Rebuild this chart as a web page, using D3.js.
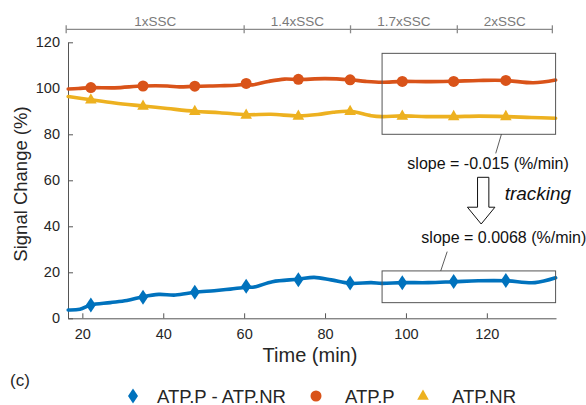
<!DOCTYPE html>
<html><head><meta charset="utf-8">
<script src="https://cdn.jsdelivr.net/npm/d3@7"></script>
<style>
html,body{margin:0;padding:0;background:#fff;}
svg{display:block;font-family:"Liberation Sans",Arial,sans-serif;}
</style></head>
<body><svg id="c" width="586" height="405"></svg>
<script>
// ---- data ----
const markerTimes = [22.1, 35, 47.8, 60.5, 73.4, 86.2, 99.1, 111.8, 124.7];
const atpPMarkers  = [100.3, 101, 100.9, 102.1, 103.9, 103.7, 103, 103, 103.4];
const atpNRMarkers = [95, 92.3, 90, 88.4, 88, 90, 88, 87.8, 87.8];
const diffMarkers  = [5.8, 9.2, 11.3, 13.9, 16.8, 15.3, 15.5, 16, 16.4];

const atpPTimes  = [16.5, 19, 22.1, 28, 35, 41, 44, 47.8, 54, 58, 60.5, 62, 66, 70, 73.4, 80, 86.2, 90, 94, 99.1, 105, 111.8, 118, 124.7, 131.5, 137];
const atpPLine   = [99.7, 99.9, 100.3, 100.2, 101, 101, 100.6, 100.9, 101.1, 101.3, 101.7, 101.5, 103, 104, 103.8, 104.2, 103.7, 103, 102.6, 103, 102.9, 103.1, 103.4, 103.4, 102.4, 103.6];
const atpNRTimes = [16.5, 22.1, 28, 35, 41, 47.8, 54, 60.5, 66.6, 73.4, 78.2, 82, 86.2, 91.4, 94, 99.1, 105, 111.8, 118, 124.7, 131, 137];
const atpNRLine  = [96.4, 95, 93.6, 92.3, 91.2, 90, 89.4, 88.5, 88.7, 88, 88.6, 89.6, 90, 88.1, 87.7, 88, 87.7, 87.7, 87.9, 87.7, 87.3, 87];
const diffTimes  = [16.5, 19.4, 22.1, 26.9, 31, 35, 38.9, 43, 47.8, 52.6, 56.6, 60.5, 62.5, 67, 73.4, 77.3, 81.5, 86.2, 91.4, 94, 99.1, 105.5, 111.8, 117.9, 124.7, 131.9, 137];
const diffLine   = [3.6, 3.9, 5.8, 6.8, 7.7, 9.4, 10.4, 10.1, 11.3, 12, 12.7, 13.5, 13.6, 15.9, 17, 17.8, 16.7, 15.2, 15.5, 15.2, 15.5, 15.5, 15.9, 16.3, 16.3, 15.5, 17.6];

const xTicks = [20, 40, 60, 80, 100, 120];
const yTicks = [0, 20, 40, 60, 80, 100, 120];
const phaseBounds = [16, 60, 86.3, 112.7, 136.2];
const phaseLabels = ["1xSSC", "1.4xSSC", "1.7xSSC", "2xSSC"];
const legendLabels = ["ATP.P - ATP.NR", "ATP.P", "ATP.NR"];

const colBlue = "#0072BD", colOrange = "#D95319", colYellow = "#EDB120";

// ---- scales ----
const x = d3.scaleLinear().domain([16.45, 137.1]).range([68, 556]);
const y = d3.scaleLinear().domain([0, 120]).range([318.3, 42.3]);

const svg = d3.select("#c");
const axisCol = "#555";
const textCol = "#262626";

// axes
const xAxis = svg.append("g").attr("transform", `translate(0,${y(0)})`)
  .call(d3.axisBottom(x).tickValues(xTicks).tickSizeInner(-5).tickSizeOuter(0).tickPadding(10));
const yAxis = svg.append("g").attr("transform", `translate(${x.range()[0]},0)`)
  .call(d3.axisLeft(y).tickValues(yTicks).tickSizeInner(-5).tickSizeOuter(0).tickPadding(8));
[xAxis, yAxis].forEach(g => {
  g.select(".domain").attr("stroke", axisCol).attr("stroke-width", 1);
  g.selectAll(".tick line").attr("stroke", axisCol);
  g.selectAll(".tick text").attr("fill", textCol).style("font-size", "14.5px").style("font-family", "Liberation Sans, Arial, sans-serif");
});

// axis labels
svg.append("text").attr("x", 310).attr("y", 362).attr("text-anchor", "middle")
  .attr("fill", textCol).style("font-size", "20px").text("Time (min)");
svg.append("text").attr("transform", "translate(27,184) rotate(-90)").attr("text-anchor", "middle")
  .attr("fill", textCol).style("font-size", "18.5px").text("Signal Change (%)");
svg.append("text").attr("x", 10).attr("y", 386).attr("fill", textCol).style("font-size", "17px").text("(c)");

// phase bracket
const by = 29.3;
const bracketCol = "#8a8a8a";
svg.append("line").attr("x1", x(phaseBounds[0])).attr("x2", x(phaseBounds[phaseBounds.length-1]))
  .attr("y1", by).attr("y2", by).attr("stroke", bracketCol).attr("stroke-width", 1.3);
phaseBounds.forEach(b => {
  svg.append("line").attr("x1", x(b)).attr("x2", x(b)).attr("y1", by-4).attr("y2", by+4)
    .attr("stroke", bracketCol).attr("stroke-width", 1.3);
});
phaseLabels.forEach((l, i) => {
  svg.append("text").attr("x", x((phaseBounds[i]+phaseBounds[i+1])/2)).attr("y", 25.5)
    .attr("text-anchor", "middle").attr("fill", "#7a7a7a").style("font-size", "13.5px").text(l);
});

// lines
const line = d3.line().x(d => x(d[0])).y(d => y(d[1])).curve(d3.curveCatmullRom.alpha(0.5));
function drawLine(ts, vs, col) {
  svg.append("path").datum(ts.map((t, i) => [t, vs[i]])).attr("d", line)
    .attr("fill", "none").attr("stroke", col).attr("stroke-width", 3.6)
    .attr("stroke-linejoin", "round").attr("stroke-linecap", "round");
}
drawLine(atpPTimes, atpPLine, colOrange);
drawLine(atpNRTimes, atpNRLine, colYellow);
drawLine(diffTimes, diffLine, colBlue);

// markers
const diamond = (cx, cy) => `M${cx},${cy-7.5}L${cx+5},${cy}L${cx},${cy+7.5}L${cx-5},${cy}Z`;
const triangle = (cx, cy) => `M${cx},${cy-6.5}L${cx+5.8},${cy+3.8}L${cx-5.8},${cy+3.8}Z`;
svg.append("g").selectAll("circle").data(markerTimes).join("circle")
  .attr("cx", d => x(d)).attr("cy", (d, i) => y(atpPMarkers[i])).attr("r", 5.5).attr("fill", colOrange);
svg.append("g").selectAll("path").data(markerTimes).join("path")
  .attr("d", (d, i) => triangle(x(d), y(atpNRMarkers[i]))).attr("fill", colYellow);
svg.append("g").selectAll("path").data(markerTimes).join("path")
  .attr("d", (d, i) => diamond(x(d), y(diffMarkers[i]))).attr("fill", colBlue);

// annotation boxes
const boxX0 = 94.1, boxX1 = 137;
[[115.2, 80], [20.6, 6.8]].forEach(([t, b]) => {
  svg.append("rect").attr("x", x(boxX0)).attr("y", y(t)).attr("width", x(boxX1)-x(boxX0))
    .attr("height", y(b)-y(t)).attr("fill", "none").attr("stroke", "#555").attr("stroke-width", 1);
});
svg.append("line").attr("x1", x(123.6)).attr("y1", y(80)).attr("x2", x(122.2)).attr("y2", y(71.7))
  .attr("stroke", "#333").attr("stroke-width", 0.8);
svg.append("line").attr("x1", x(110.2)).attr("y1", y(29)).attr("x2", x(108.6)).attr("y2", y(20.6))
  .attr("stroke", "#333").attr("stroke-width", 0.8);
svg.append("text").attr("x", x(120.3)).attr("y", y(64.9)).attr("text-anchor", "middle")
  .attr("fill", "#111").style("font-size", "16px").text("slope = -0.015 (%/min)");
svg.append("text").attr("x", x(124.2)).attr("y", y(32.9)).attr("text-anchor", "middle")
  .attr("fill", "#111").style("font-size", "16px").text("slope = 0.0068 (%/min)");
svg.append("text").attr("x", x(124.4)).attr("y", y(51.4)).attr("fill", "#111")
  .style("font-size", "19px").style("font-style", "italic").text("tracking");

// hollow arrow
const ax0 = x(117.7), ax1 = x(120.5), hx0 = x(115.2), hx1 = x(122);
const ay0 = y(61.3), ay1 = y(48.3), tipY = y(41), acx = (hx0 + hx1) / 2;
svg.append("path")
  .attr("d", `M${ax0},${ay0}L${ax1},${ay0}L${ax1},${ay1}L${hx1},${ay1}L${acx},${tipY}L${hx0},${ay1}L${ax0},${ay1}Z`)
  .attr("fill", "#fff").attr("stroke", "#111").attr("stroke-width", 1);

// legend
const ly = 396;
const lg = svg.append("g");
lg.append("path").attr("d", diamond(133, ly)).attr("fill", colBlue);
lg.append("circle").attr("cx", 316).attr("cy", ly).attr("r", 5.5).attr("fill", colOrange);
lg.append("path").attr("d", triangle(423, ly)).attr("fill", colYellow);
const lxs = [157, 345, 452];
legendLabels.forEach((l, i) => {
  lg.append("text").attr("x", lxs[i]).attr("y", ly + 6.5).attr("fill", textCol)
    .style("font-size", "18.5px").text(l);
});
</script></body></html>
